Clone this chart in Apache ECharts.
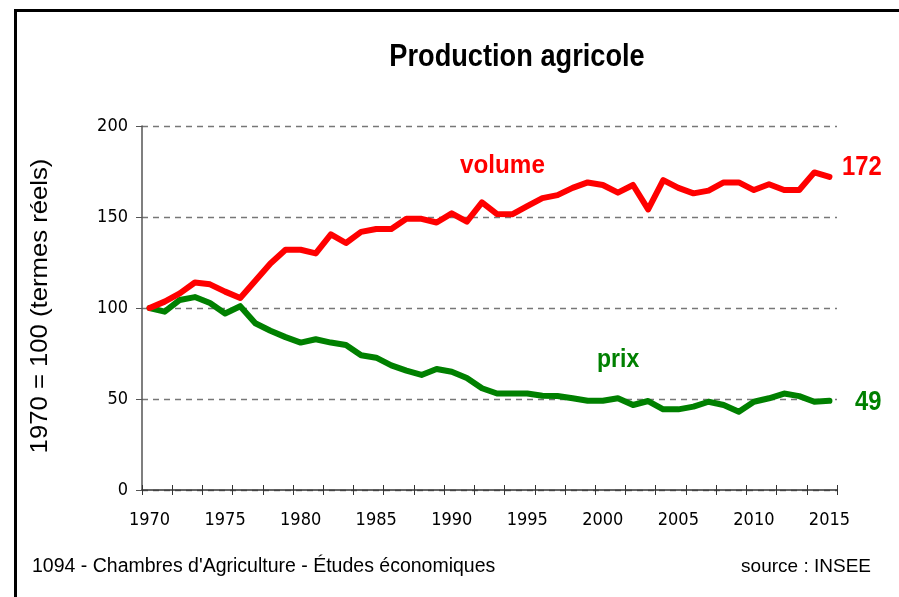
<!DOCTYPE html>
<html><head><meta charset="utf-8">
<script src="https://cdn.jsdelivr.net/npm/echarts@6/dist/echarts.min.js"></script>
<style>html,body{margin:0;padding:0;background:#fff}#c{width:899px;height:597px}</style>
</head><body><div id="c"></div>
<script>
const years = [];
for (let y = 1970; y <= 2015; y++) years.push(String(y));
const volume = [100,103.5,108,114,113,109,105.5,115,124.5,132,132,130,140.5,135.7,141.8,143.4,143.4,149,149,147,152,147.5,158,151.6,151.5,156,160.4,162,166,169,167.6,163.4,167.6,154.2,170.3,166,163,164.5,169,169,164.8,168,164.8,164.8,174.5,172];
const prix = [100,98,104.4,106,102.7,97,101,91.6,87.5,84,81,82.8,81,79.7,74,72.7,68.5,65.6,63.2,66.5,65,61.5,55.9,53,53,53,51.8,51.6,50.4,49,49,50.4,46.7,48.9,44.3,44.3,45.8,48.5,46.7,43,48.5,50.4,53,51.6,48.5,49];
const yTicks = [0,50,100,150,200];
const cond = '"DejaVu Sans Condensed","Liberation Sans",sans-serif';
const sans = '"Liberation Sans",Arial,sans-serif';
const chart = echarts.init(document.getElementById('c'));
function label(txt, x, y, size, color, sx, align) {
  return {type:'text', x:x, y:y, scaleX:sx, silent:true,
    style:{text:txt, fill:color, font:'bold '+size+'px '+sans, textAlign:align||'left', textVerticalAlign:'middle'}};
}
chart.setOption({
  animation:false,
  backgroundColor:'#fff',
  grid:{left:142,right:62,top:126,bottom:107},
  xAxis:[{type:'category',data:years,boundaryGap:true,
    axisLine:{lineStyle:{color:'#333',width:1.5}},
    axisTick:{show:true,interval:1,length:5,lineStyle:{color:'#333'}},
    axisLabel:{interval:4,color:'#000',fontFamily:cond,fontSize:18,margin:21},
    splitLine:{show:false}},
   {type:'category',data:years,boundaryGap:true,position:'bottom',
    axisLine:{show:false},
    axisTick:{show:true,inside:true,interval:1,length:5,lineStyle:{color:'#333'}},
    axisLabel:{show:false},splitLine:{show:false}}],
  yAxis:{type:'value',min:0,max:200,interval:50,
    axisLine:{show:true,lineStyle:{color:'#555',width:1.5}},
    axisTick:{show:true,length:6,lineStyle:{color:'#555'}},
    axisLabel:{color:'#000',fontFamily:cond,fontSize:18,margin:14,
      formatter:v=>yTicks.includes(v)?String(v):''},
    splitLine:{show:true,lineStyle:{type:[6,5],color:'#777',width:1.3}}},
  series:[
    {type:'line',name:'volume',data:volume,symbol:'none',smooth:false,
      lineStyle:{color:'#ff0000',width:6,join:'round',cap:'round'},z:3},
    {type:'line',name:'prix',data:prix,symbol:'none',smooth:false,
      lineStyle:{color:'#008000',width:6,join:'round',cap:'round'},z:2}
  ],
  graphic:[
    {type:'rect',left:13,top:8,shape:{width:900,height:600},
      style:{fill:'none',stroke:'#000',lineWidth:3},silent:true},
    label('Production agricole',517,57,32,'#000',0.85,'center'),
    label('volume',460,166,25,'#ff0000',0.97,'left'),
    label('172',842,167,28,'#ff0000',0.85,'left'),
    label('prix',597,360,25,'#008000',0.92,'left'),
    label('49',855,402,28,'#008000',0.85,'left'),
    {type:'text',x:40,y:306,rotation:Math.PI/2,scaleX:1.07,silent:true,
      style:{text:'1970 = 100 (termes réels)',fill:'#000',font:'24px '+sans,textAlign:'center',textVerticalAlign:'middle'}},
    {type:'text',x:32,y:567,silent:true,style:{text:"1094 - Chambres d'Agriculture - Études économiques",fill:'#000',font:'19.5px '+sans,textVerticalAlign:'middle'}},
    {type:'text',x:871,y:567,silent:true,style:{text:'source : INSEE',fill:'#000',font:'19px '+sans,textAlign:'right',textVerticalAlign:'middle'}}
  ]
});
</script></body></html>
